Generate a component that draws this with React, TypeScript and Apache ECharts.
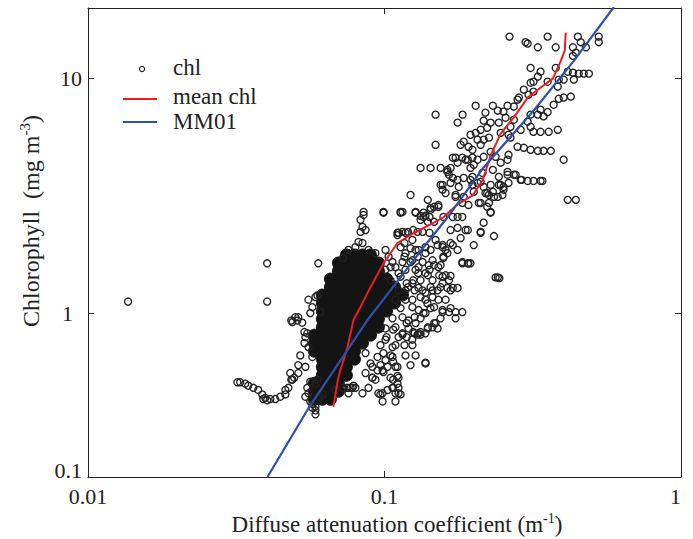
import React, { useEffect, useRef } from "react";
import * as echarts from "echarts";

const FONT = "Liberation Serif";

// x ticks / y ticks as printed
const xTickLabels = ["0.01", "0.1", "1"];
const yTickLabels = ["0.1", "1", "10"];

// mean chl (red)
const meanChl: number[][] = [
  [0.0672, 0.398], [0.0699, 0.534], [0.075, 0.717], [0.0786, 0.934], [0.0829, 1.06],
  [0.0897, 1.29], [0.0992, 1.63], [0.1106, 1.99], [0.1253, 2.19], [0.1429, 2.39],
  [0.1581, 2.56], [0.1765, 2.91], [0.1983, 3.18], [0.2143, 3.68], [0.228, 4.7],
  [0.2465, 5.83], [0.2728, 6.82], [0.304, 8.3], [0.3365, 9.16], [0.3696, 10.0],
  [0.3933, 11.9], [0.4055, 13.2], [0.4085, 15.7],
];

// MM01 model (blue)
const mm01: number[][] = [
  [0.0403, 0.2], [0.0554, 0.393], [0.0738, 0.675], [0.0876, 0.934], [0.1047, 1.25],
  [0.1355, 1.91], [0.167, 2.66], [0.216, 4.18], [0.3186, 7.31], [0.435, 11.9], [0.594, 20.2],
];

// dense core of chl observations
const chlCore: number[][] = [
  [0.0744, 1.77], [0.0792, 1.77], [0.0843, 1.77], [0.0897, 1.77],
  [0.0699, 1.636], [0.0744, 1.636], [0.0792, 1.636], [0.0843, 1.636], [0.0897, 1.636], [0.0954, 1.636],
  [0.0699, 1.512], [0.0744, 1.512], [0.0792, 1.512], [0.0843, 1.512], [0.0897, 1.512], [0.0954, 1.512],
  [0.0657, 1.397], [0.0699, 1.397], [0.0744, 1.397], [0.0792, 1.397], [0.0843, 1.397], [0.0897, 1.397], [0.0954, 1.397], [0.1016, 1.397],
  [0.0657, 1.292], [0.0699, 1.292], [0.0744, 1.292], [0.0792, 1.292], [0.0843, 1.292], [0.0897, 1.292], [0.0954, 1.292], [0.1016, 1.292], [0.1081, 1.292],
  [0.0617, 1.194], [0.0657, 1.194], [0.0699, 1.194], [0.0744, 1.194], [0.0792, 1.194], [0.0843, 1.194], [0.0897, 1.194], [0.0954, 1.194], [0.1016, 1.194], [0.1081, 1.194], [0.115, 1.194],
  [0.0617, 1.103], [0.0657, 1.103], [0.0699, 1.103], [0.0744, 1.103], [0.0792, 1.103], [0.0843, 1.103], [0.0897, 1.103], [0.0954, 1.103], [0.1016, 1.103], [0.1081, 1.103],
  [0.0617, 1.02], [0.0657, 1.02], [0.0699, 1.02], [0.0744, 1.02], [0.0792, 1.02], [0.0843, 1.02], [0.0897, 1.02], [0.0954, 1.02], [0.1016, 1.02],
  [0.0617, 0.943], [0.0657, 0.943], [0.0699, 0.943], [0.0744, 0.943], [0.0792, 0.943], [0.0843, 0.943], [0.0897, 0.943], [0.0954, 0.943],
  [0.0617, 0.871], [0.0657, 0.871], [0.0699, 0.871], [0.0744, 0.871], [0.0792, 0.871], [0.0843, 0.871], [0.0897, 0.871], [0.0954, 0.871],
  [0.058, 0.805], [0.0617, 0.805], [0.0657, 0.805], [0.0699, 0.805], [0.0744, 0.805], [0.0792, 0.805], [0.0843, 0.805], [0.0897, 0.805],
  [0.058, 0.744], [0.0617, 0.744], [0.0657, 0.744], [0.0699, 0.744], [0.0744, 0.744], [0.0792, 0.744], [0.0843, 0.744],
  [0.058, 0.688], [0.0617, 0.688], [0.0657, 0.688], [0.0699, 0.688], [0.0744, 0.688], [0.0792, 0.688],
  [0.0617, 0.636], [0.0657, 0.636], [0.0699, 0.636], [0.0744, 0.636], [0.0792, 0.636],
  [0.0617, 0.588], [0.0657, 0.588], [0.0699, 0.588], [0.0744, 0.588],
  [0.0617, 0.543], [0.0657, 0.543], [0.0699, 0.543], [0.0744, 0.543],
  [0.058, 0.502], [0.0617, 0.502], [0.0657, 0.502], [0.0699, 0.502],
  [0.058, 0.464], [0.0617, 0.464], [0.0657, 0.464], [0.0699, 0.464],
  [0.058, 0.429], [0.0617, 0.429], [0.0657, 0.429],
];

// individual chl observations
const chlPoints: number[][] = [
  [0.01365, 1.12], [0.0402, 1.63], [0.0402, 1.12], [0.0598, 1.63],
  [0.264, 15.1], [0.299, 14.3], [0.304, 14.1], [0.329, 13.6], [0.355, 15.1], [0.378, 13.6], [0.449, 15.1], [0.459, 14.3], [0.478, 13.6], [0.528, 15.1], [0.528, 14.3], [0.432, 13.6], [0.442, 12.9], [0.432, 12.5],
  [0.311, 11.1], [0.336, 10.7], [0.378, 11.1], [0.415, 10.7], [0.432, 10.6], [0.452, 10.5], [0.47, 10.5], [0.489, 10.5], [0.387, 9.9], [0.402, 9.9], [0.435, 9.9], [0.384, 9.25], [0.329, 10.2], [0.318, 9.7], [0.311, 9.6], [0.355, 9.7], [0.295, 8.97], [0.318, 8.8], [0.306, 8.54], [0.284, 8.3], [0.281, 8.13], [0.273, 7.6], [0.336, 7.37], [0.355, 7.2], [0.329, 7.02], [0.311, 7.02], [0.344, 6.9], [0.372, 7.74], [0.387, 8.2], [0.402, 8.3], [0.425, 8.38],
  [0.1487, 7.02], [0.1834, 7.02], [0.203, 7.66], [0.1764, 6.49], [0.219, 7.16], [0.232, 7.66], [0.241, 7.3], [0.252, 7.23], [0.26, 7.66], [0.216, 6.62], [0.228, 6.49], [0.243, 6.49], [0.256, 6.81], [0.273, 6.68], [0.266, 6.23], [0.304, 6.55], [0.288, 6.05], [0.311, 6.23], [0.318, 5.93], [0.336, 5.93], [0.358, 5.93], [0.384, 6.05],
  [0.195, 5.76], [0.203, 5.87], [0.211, 6.05], [0.222, 6.17], [0.206, 5.49], [0.216, 5.49], [0.225, 5.6], [0.192, 5.12], [0.198, 4.97], [0.211, 5.22], [0.1806, 5.22], [0.185, 5.38], [0.1487, 5.22], [0.262, 5.76], [0.266, 5.6], [0.2465, 5.87], [0.281, 5.12], [0.295, 5.07], [0.311, 4.97], [0.329, 4.92], [0.344, 4.92], [0.364, 4.92], [0.262, 4.73], [0.26, 4.51], [0.2465, 4.38],
  [0.17, 4.6], [0.1764, 4.38], [0.1877, 4.51], [0.198, 4.6], [0.206, 4.51], [0.216, 4.64], [0.2, 4.29], [0.195, 4.16], [0.228, 4.87], [0.237, 4.64], [0.1323, 4.16], [0.143, 4.16], [0.1546, 4.16], [0.163, 4.08], [0.165, 3.89], [0.17, 3.77], [0.1764, 3.7], [0.185, 3.77], [0.198, 3.81], [0.214, 3.96], [0.232, 4.08], [0.211, 3.63], [0.216, 3.45], [0.228, 3.52], [0.26, 4.0], [0.273, 3.89], [0.288, 3.7], [0.304, 3.66], [0.318, 3.66], [0.336, 3.66], [0.402, 4.51],
  [0.1224, 3.19], [0.14, 3.04], [0.1546, 3.52], [0.157, 3.36], [0.1737, 3.13], [0.183, 2.95], [0.192, 2.89], [0.198, 3.52], [0.222, 3.25], [0.232, 3.29], [0.241, 3.13], [0.25, 3.19], [0.252, 3.36], [0.2465, 3.52], [0.211, 2.95], [0.225, 2.95], [0.228, 2.7], [0.222, 2.84], [0.143, 2.81], [0.147, 2.84], [0.152, 2.89], [0.1273, 2.7], [0.1323, 2.6], [0.1375, 2.6], [0.17, 2.57], [0.1764, 2.57], [0.183, 2.57], [0.115, 2.7], [0.415, 3.04], [0.442, 3.04],
  [0.167, 4.16], [0.1737, 4.6], [0.183, 4.6], [0.191, 4.51], [0.195, 3.7], [0.206, 3.59], [0.243, 3.81], [0.26, 3.89], [0.243, 3.52], [0.252, 3.45], [0.262, 3.59], [0.277, 3.89], [0.29, 3.7], [0.341, 3.66], [0.1607, 3.25], [0.167, 3.59], [0.178, 3.45], [0.163, 4.0], [0.0992, 2.7], [0.1133, 2.7], [0.1354, 2.57], [0.143, 2.76], [0.1323, 2.5], [0.14, 2.45], [0.147, 2.45], [0.158, 2.57], [0.167, 2.26], [0.1764, 2.31], [0.1877, 2.26], [0.1806, 2.09], [0.2, 1.95], [0.211, 2.22], [0.234, 2.13], [0.216, 2.43], [0.228, 2.68], [0.208, 2.95], [0.219, 3.25], [0.225, 3.19], [0.234, 3.13], [0.2, 3.29],
  [0.1106, 2.15], [0.115, 2.22], [0.12, 2.22], [0.125, 2.26], [0.1293, 2.22], [0.1344, 2.22], [0.1168, 1.99], [0.1224, 1.89], [0.1273, 1.86], [0.1375, 1.91], [0.143, 1.86], [0.151, 1.95], [0.157, 1.95], [0.1607, 1.86], [0.17, 1.95], [0.1764, 1.86], [0.1168, 1.74], [0.1293, 1.74], [0.1344, 1.65], [0.141, 1.6], [0.147, 1.6], [0.1546, 1.6], [0.158, 1.72], [0.163, 1.8], [0.183, 1.63], [0.191, 1.63], [0.195, 1.63], [0.241, 1.42], [0.244, 1.41], [0.13, 1.48], [0.14, 1.45], [0.153, 1.45], [0.1607, 1.45], [0.167, 1.44], [0.157, 1.34], [0.1546, 1.29], [0.163, 1.28], [0.17, 1.28], [0.1764, 1.28], [0.125, 1.38], [0.12, 1.29], [0.1344, 1.25], [0.157, 1.01], [0.165, 1.01], [0.1737, 1.01], [0.183, 1.01], [0.147, 0.906], [0.14, 0.87], [0.125, 0.83], [0.1323, 0.81], [0.115, 0.81], [0.124, 0.77], [0.1168, 0.73],
  [0.085, 2.7], [0.085, 2.62], [0.083, 2.5], [0.0843, 2.33], [0.0863, 2.26], [0.083, 2.22], [0.0817, 2.01], [0.0992, 2.68], [0.1133, 2.68], [0.1273, 2.68], [0.1106, 2.2], [0.1354, 2.68], [0.157, 3.52], [0.1737, 3.19], [0.185, 3.13], [0.191, 2.26], [0.211, 2.2], [0.183, 1.65], [0.192, 1.63], [0.237, 1.42], [0.158, 1.74], [0.167, 1.99], [0.1487, 0.906], [0.145, 0.87], [0.1375, 0.82], [0.1293, 0.81], [0.1188, 0.79], [0.1375, 0.61], [0.1024, 0.47], [0.0985, 0.455], [0.1115, 0.48], [0.1115, 0.455], [0.107, 0.52], [0.1106, 0.54], [0.1106, 0.59], [0.107, 0.62], [0.1048, 0.66], [0.0992, 0.675], [0.0947, 0.65],
  [0.052, 0.66], [0.0537, 0.745], [0.0512, 0.6], [0.0481, 0.555], [0.0489, 0.52], [0.0463, 0.47], [0.0445, 0.44], [0.0428, 0.43], [0.0402, 0.425], [0.039, 0.43], [0.0375, 0.47], [0.0361, 0.48], [0.0485, 0.93], [0.0512, 0.96], [0.0537, 0.83], [0.0594, 1.19], [0.0608, 1.01], [0.0562, 1.0],
  [0.0319, 0.507], [0.0326, 0.507], [0.0339, 0.5], [0.0347, 0.49], [0.0387, 0.45], [0.0396, 0.435], [0.0412, 0.43], [0.0463, 0.45], [0.0474, 0.48], [0.0485, 0.52], [0.0496, 0.53], [0.0549, 0.82], [0.0489, 0.915], [0.0508, 0.93], [0.0528, 0.91], [0.0969, 0.45], [0.1133, 0.45], [0.107, 0.48], [0.1106, 0.5], [0.1048, 0.53], [0.1375, 0.615], [0.0571, 0.395], [0.0585, 0.385], [0.0562, 0.42], [0.0554, 0.455], [0.0549, 0.48], [0.0562, 0.51], [0.0594, 0.52], [0.0608, 0.44], [0.062, 0.45], [0.0768, 0.48], [0.075, 0.48], [0.0727, 0.48], [0.0786, 0.49], [0.091, 0.53], [0.0947, 0.57], [0.0992, 0.56], [0.1024, 0.59], [0.0897, 0.61], [0.0863, 0.675], [0.1263, 0.82], [0.1323, 0.83], [0.14, 0.86],
  [0.1242, 1.34], [0.1303, 1.28], [0.1375, 1.22], [0.1452, 1.17], [0.152, 1.14], [0.1177, 1.14], [0.1242, 1.06], [0.1303, 1.03], [0.1375, 1.0], [0.115, 0.96], [0.1205, 0.93], [0.1273, 0.906], [0.1089, 0.87], [0.115, 0.82], [0.1008, 0.77], [0.1064, 0.716], [0.1115, 0.79], [0.1303, 0.82], [0.1008, 0.63], [0.0985, 0.57], [0.0932, 0.52], [0.0883, 0.48], [0.0843, 0.455], [0.0798, 0.48], [0.0863, 0.555], [0.091, 0.59], [0.1064, 0.65], [0.1089, 0.59], [0.1115, 0.53], [0.1064, 0.48], [0.1089, 0.455],
  [0.157, 1.03], [0.151, 1.25], [0.1452, 1.38], [0.1375, 1.48], [0.1303, 1.57], [0.1242, 1.68], [0.1177, 1.8], [0.1133, 1.91], [0.1303, 1.86], [0.1375, 1.8], [0.1452, 1.68], [0.152, 1.57], [0.157, 1.43], [0.1242, 2.05], [0.1177, 2.2], [0.1418, 2.2], [0.1487, 2.05], [0.157, 1.91],
  [0.0554, 1.14], [0.0571, 1.06], [0.0585, 1.17], [0.05, 0.96], [0.0541, 0.79], [0.0554, 0.716], [0.0571, 0.65], [0.0541, 0.59], [0.0512, 0.555], [0.0585, 0.5], [0.0598, 0.44], [0.0585, 0.4],
  [0.0725, 1.72], [0.0756, 1.86], [0.0798, 1.91], [0.0843, 1.99], [0.0883, 1.86], [0.0932, 1.8], [0.1008, 1.86], [0.1032, 1.74], [0.1089, 1.57], [0.1115, 1.48], [0.1115, 2.2], [0.1418, 2.57], [0.152, 2.84],
  [0.0541, 0.44], [0.0571, 0.41], [0.0585, 0.37], [0.0683, 0.47], [0.0721, 0.48], [0.0756, 0.455], [0.078, 0.48], [0.091, 0.53], [0.0954, 0.455], [0.0985, 0.42], [0.1089, 0.42],
  [0.1048, 1.57], [0.1133, 1.43], [0.1188, 1.34], [0.1263, 1.25], [0.1323, 1.17], [0.1396, 1.1], [0.147, 1.06], [0.1354, 1.0], [0.1263, 0.96], [0.1188, 0.906], [0.107, 0.85], [0.1016, 0.79], [0.143, 1.29],
  [0.1064, 1.65], [0.115, 1.65], [0.1224, 1.65], [0.1008, 1.53], [0.1177, 1.53], [0.1273, 1.53], [0.1418, 1.53],
  [0.1048, 1.38], [0.1323, 1.38], [0.165, 1.38], [0.1115, 1.25], [0.1177, 1.25], [0.1452, 1.25], [0.167, 1.25],
  [0.1089, 1.14], [0.1242, 1.14], [0.1375, 1.14], [0.1607, 1.14], [0.1133, 1.05], [0.143, 1.05], [0.167, 1.05],
  [0.1064, 0.95], [0.1323, 0.95], [0.1546, 0.95], [0.1737, 0.95], [0.1008, 0.86], [0.1205, 0.86], [0.151, 0.86],
  [0.0969, 0.73], [0.1089, 0.73], [0.1242, 0.73], [0.1177, 0.66], [0.1273, 0.66], [0.0969, 0.6], [0.1224, 0.6],
];

const INK = "#222222";

function xLabel(v: number): string {
  if (v < 0.05) return xTickLabels[0];
  if (v < 0.5) return xTickLabels[1];
  return xTickLabels[2];
}

function yLabel(v: number): string {
  if (v < 0.3) return "{lo|" + yTickLabels[0] + "}";
  if (v < 3) return "{one|" + yTickLabels[1] + "}";
  if (v < 15) return yTickLabels[2];
  return "";
}

export default function App() {
  const ref = useRef<HTMLDivElement>(null);
  useEffect(() => {
    if (!ref.current) return;
    const chart = echarts.init(ref.current, undefined, { renderer: "svg" });
    const axisLine = { show: true, lineStyle: { color: INK, width: 1 } };
    const axisTick = { show: true, inside: true, length: 6, lineStyle: { color: INK, width: 1 } };
    const labelStyle = { fontFamily: FONT, fontSize: 22, color: INK };
    const legendText = (text: string, y: number) => ({
      type: "text", x: 173, y,
      style: { text, fontFamily: FONT, fontSize: 23, fill: INK, align: "left", verticalAlign: "middle", textAlign: "left", textVerticalAlign: "middle" },
    });
    const option: any = {
      animation: false,
      backgroundColor: "#ffffff",
      textStyle: { fontFamily: FONT },
      grid: { left: 88, right: 12, top: 8, bottom: 62, containLabel: false },
      xAxis: [
        {
          type: "log", logBase: 10, min: 0.01, max: 1, position: "bottom",
          axisLine, axisTick,
          axisLabel: { ...labelStyle, margin: 8, formatter: xLabel, alignMaxLabel: "right" },
          splitLine: { show: false }, minorTick: { show: false },
        },
        {
          type: "log", logBase: 10, min: 0.01, max: 1, position: "top",
          axisLine, axisTick, axisLabel: { show: false }, splitLine: { show: false },
        },
      ],
      yAxis: [
        {
          type: "log", logBase: 10, min: 0.2, max: 20, position: "left",
          axisLine, axisTick,
          axisLabel: {
            ...labelStyle, margin: 6, formatter: yLabel, showMinLabel: true, showMaxLabel: true,
            rich: {
              lo: { fontFamily: FONT, fontSize: 22, color: INK, padding: [0, 0, 14, 0] },
              one: { fontFamily: FONT, fontSize: 22, color: INK, padding: [0, 9, 0, 0] },
            },
          },
          splitLine: { show: false },
        },
        {
          type: "log", logBase: 10, min: 0.2, max: 20, position: "right",
          axisLine, axisTick, axisLabel: { show: false }, splitLine: { show: false },
        },
      ],
      series: [
        {
          name: "chl", type: "scatter", data: chlCore, xAxisIndex: 0, yAxisIndex: 0,
          symbol: "circle", symbolSize: 12, large: false, silent: true,
          itemStyle: { color: "#141414", borderColor: "#141414", borderWidth: 1, opacity: 1 },
        },
        {
          name: "chl", type: "scatter", data: chlPoints, xAxisIndex: 0, yAxisIndex: 0,
          symbol: "circle", symbolSize: 7, large: false, silent: true,
          itemStyle: { color: "rgba(0,0,0,0)", borderColor: INK, borderWidth: 1.35, opacity: 1 },
        },
        {
          name: "mean chl", type: "line", data: meanChl, xAxisIndex: 0, yAxisIndex: 0,
          symbol: "none", showSymbol: false, silent: true,
          lineStyle: { color: "#ec1c24", width: 2 },
        },
        {
          name: "MM01", type: "line", data: mm01, xAxisIndex: 0, yAxisIndex: 0,
          symbol: "none", showSymbol: false, silent: true,
          lineStyle: { color: "#2f4fa8", width: 2.2 },
        },
      ],
      graphic: [
        {
          type: "text", x: 31, y: 221, rotation: Math.PI / 2,
          style: {
            text: "{a|Chlorophyll  (mg m}{s|-3}{a|)}",
            align: "center", verticalAlign: "middle", textAlign: "center", textVerticalAlign: "middle",
            rich: {
              a: { fontFamily: FONT, fontSize: 24, fill: INK, color: INK, lineHeight: 28 },
              s: { fontFamily: FONT, fontSize: 15, fill: INK, color: INK, verticalAlign: "top", lineHeight: 18 },
            },
          },
        },
        {
          type: "text", x: 397, y: 524,
          style: {
            text: "{a|Diffuse attenuation coefficient (m}{s|-1}{a|)}",
            align: "center", verticalAlign: "middle", textAlign: "center", textVerticalAlign: "middle",
            rich: {
              a: { fontFamily: FONT, fontSize: 23, fill: INK, color: INK, lineHeight: 26 },
              s: { fontFamily: FONT, fontSize: 14, fill: INK, color: INK, verticalAlign: "top", lineHeight: 16 },
            },
          },
        },
        {
          type: "circle", shape: { cx: 142, cy: 69, r: 2.6 },
          style: { fill: "none", stroke: INK, lineWidth: 1.2 },
        },
        legendText("chl", 67),
        {
          type: "line", shape: { x1: 123, y1: 99, x2: 157, y2: 99 },
          style: { stroke: "#ec1c24", lineWidth: 2 },
        },
        legendText("mean chl", 96),
        {
          type: "line", shape: { x1: 123, y1: 122, x2: 157, y2: 122 },
          style: { stroke: "#2f4fa8", lineWidth: 2 },
        },
        legendText("MM01", 121),
      ],
    };
    chart.setOption(option);
    return () => chart.dispose();
  }, []);
  return (
    <div
      ref={ref}
      style={{ position: "absolute", left: 0, top: 0, width: 693, height: 539, background: "#fff" }}
    />
  );
}
